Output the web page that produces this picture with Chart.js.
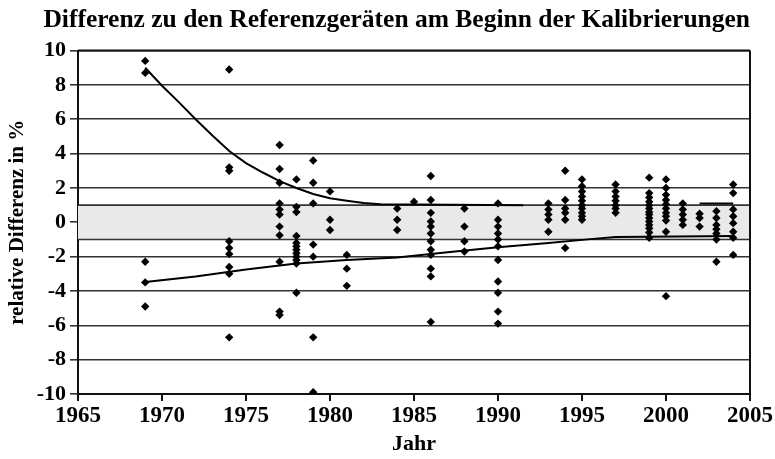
<!DOCTYPE html>
<html>
<head>
<meta charset="utf-8">
<script src="https://cdn.jsdelivr.net/npm/chart.js@4.4.1/dist/chart.umd.min.js"></script>
<style>
  html, body { margin: 0; padding: 0; background: #fff; }
  #wrap { width: 775px; height: 459px; }
</style>
</head>
<body>
<div id="wrap"><canvas id="kalib"></canvas></div>
<script>
// Kalibrierjahre und gemessene Differenzen (in %) je Jahr
const years = [1969, 1974, 1977, 1978, 1979, 1980, 1981, 1984, 1985, 1986, 1988, 1990,
    1993, 1994, 1995, 1997, 1999, 2000, 2001, 2002, 2003, 2004];
const diffs = [
    [9.4, 8.7, -2.3, -3.5, -4.9],
    [8.9, 3.2, 3.0, -1.1, -1.5, -1.85, -2.6, -3.0, -6.7],
    [4.5, 3.1, 2.3, 1.1, 0.75, 0.45, -0.25, -0.75, -2.3, -5.2, -5.4],
    [2.5, 0.9, 0.6, -0.8, -1.2, -1.4, -1.6, -1.8, -2.0, -2.2, -2.4, -4.1],
    [3.6, 2.3, 1.1, -1.3, -2.0, -6.7, -9.9],
    [1.8, 0.15, -0.45],
    [-1.9, -2.7, -3.7],
    [0.8, 0.15, -0.45],
    [1.2],
    [2.7, 1.3, 0.55, 0.05, -0.25, -0.65, -1.1, -1.6, -1.9, -2.7, -3.15, -5.8],
    [0.8, -0.25, -1.1, -1.7],
    [1.1, 0.15, -0.25, -0.65, -1.0, -1.4, -2.2, -3.45, -4.1, -5.2, -5.9],
    [1.1, 0.75, 0.45, 0.15, -0.55],
    [3.0, 1.3, 0.8, 0.55, 0.15, -1.5],
    [2.5, 2.1, 1.8, 1.5, 1.25, 1.0, 0.8, 0.55, 0.35, 0.15],
    [2.2, 1.8, 1.5, 1.25, 1.0, 0.8, 0.55],
    [2.6, 1.7, 1.45, 1.2, 1.0, 0.8, 0.6, 0.45, 0.25, 0.05, -0.15, -0.35, -0.6, -0.9],
    [2.5, 2.0, 1.6, 1.3, 1.05, 0.8, 0.55, 0.35, 0.1, -0.55, -4.3],
    [1.1, 0.75, 0.45, 0.15, -0.15],
    [0.5, 0.25, -0.25],
    [0.65, 0.25, -0.15, -0.4, -0.65, -1.0, -2.3],
    [2.2, 1.7, 0.75, 0.35, -0.05, -0.55, -0.9, -1.9]
];

// Ausgleichskurven (oben: abklingend, unten: ansteigend)
const upperFitX = [1969, 1970, 1971, 1972, 1973, 1974, 1975, 1976, 1977, 1978, 1979, 1980, 1981, 1982, 1983, 1991.5];
const upperFitY = [9.0, 7.95, 7.0, 6.0, 5.05, 4.15, 3.45, 2.9, 2.4, 2.0, 1.65, 1.4, 1.25, 1.12, 1.05, 1.0];
const upperTailX = [2002, 2004];
const upperTailY = [1.1, 1.1];
const lowerFitX = [1969, 1972, 1975, 1978, 1981, 1984, 1987, 1990, 1993, 1995.5, 1997, 2004];
const lowerFitY = [-3.48, -3.15, -2.75, -2.4, -2.2, -2.05, -1.75, -1.45, -1.2, -0.98, -0.85, -0.8];

const yTicks = [-10, -8, -6, -4, -2, 0, 2, 4, 6, 8, 10];
const xTicks = [1965, 1970, 1975, 1980, 1985, 1990, 1995, 2000, 2005];
const band = [-1, 1];

const serif = "'Liberation Serif', 'Times New Roman', serif";

const points = [];
years.forEach((yr, i) => diffs[i].forEach(v => points.push({ x: yr, y: v })));
const toXY = (xs, ys) => xs.map((x, i) => ({ x: x, y: ys[i] }));

// grauer Toleranzbereich +-1 % und Rahmen
const bandPlugin = {
    id: 'band',
    beforeDatasetsDraw(chart) {
        const { ctx, chartArea: a, scales: { y } } = chart;
        const top = y.getPixelForValue(band[1]);
        const bot = y.getPixelForValue(band[0]);
        ctx.save();
        ctx.fillStyle = '#e9e9e9';
        ctx.fillRect(a.left, top, a.right - a.left, bot - top);
        ctx.strokeStyle = '#333';
        ctx.lineWidth = 1.6;
        ctx.beginPath();
        ctx.moveTo(a.left, top); ctx.lineTo(a.right, top);
        ctx.moveTo(a.left, bot); ctx.lineTo(a.right, bot);
        ctx.stroke();
        ctx.strokeStyle = '#111';
        ctx.lineWidth = 2;
        ctx.beginPath();
        ctx.moveTo(a.right, a.top); ctx.lineTo(a.right, a.bottom);
        ctx.moveTo(a.left, a.top); ctx.lineTo(a.right, a.top);
        ctx.stroke();
        ctx.restore();
    }
};

const fitStyle = {
    showLine: true,
    borderColor: '#000',
    borderWidth: 2,
    pointRadius: 0,
    fill: false,
    tension: 0
};

new Chart(document.getElementById('kalib'), {
    type: 'scatter',
    data: {
        datasets: [
            Object.assign({ label: 'oben', data: toXY(upperFitX, upperFitY) }, fitStyle),
            Object.assign({ label: 'oben2', data: toXY(upperTailX, upperTailY) }, fitStyle),
            Object.assign({ label: 'unten', data: toXY(lowerFitX, lowerFitY) }, fitStyle),
            {
                label: 'Differenz',
                data: points,
                pointStyle: 'rectRot',
                pointRadius: 4.2,
                backgroundColor: '#000',
                borderColor: '#000',
                borderWidth: 0
            }
        ]
    },
    options: {
        responsive: true,
        maintainAspectRatio: false,
        animation: false,
        layout: { padding: { left: 0, right: 25, top: 0, bottom: 0 } },
        plugins: {
            legend: { display: false },
            tooltip: { enabled: false },
            title: {
                display: true,
                text: 'Differenz zu den Referenzgeräten am Beginn der Kalibrierungen',
                color: '#000',
                align: 'end',
                font: { family: serif, size: 25.5, weight: 'bold' },
                padding: { top: 5, bottom: 15 }
            }
        },
        scales: {
            x: {
                type: 'linear',
                min: 1965,
                max: 2005,
                afterBuildTicks: s => { s.ticks = xTicks.map(v => ({ value: v })); },
                afterFit: s => { s.height = 65; },
                ticks: {
                    color: '#000',
                    font: { family: serif, size: 23, weight: 'bold' },
                    padding: 1,
                    maxRotation: 0,
                    callback: v => String(v)
                },
                grid: { drawOnChartArea: false, tickLength: 7, color: '#111', lineWidth: 2 },
                border: { color: '#111', width: 2 },
                title: {
                    display: true,
                    text: 'Jahr',
                    color: '#000',
                    font: { family: serif, size: 22, weight: 'bold' },
                    padding: { top: 0, bottom: 1 }
                }
            },
            y: {
                min: -10,
                max: 10,
                afterBuildTicks: s => { s.ticks = yTicks.map(v => ({ value: v })); },
                afterFit: s => { s.width = 78; },
                ticks: {
                    color: '#000',
                    font: { family: serif, size: 22, weight: 'bold' },
                    padding: 4
                },
                grid: { color: '#333', lineWidth: 1.6, tickLength: 8 },
                border: { color: '#111', width: 2 },
                title: {
                    display: true,
                    text: 'relative Differenz in %',
                    color: '#000',
                    font: { family: serif, size: 21, weight: 'bold' },
                    padding: { top: 5, bottom: 0 }
                }
            }
        }
    },
    plugins: [bandPlugin]
});
</script>
</body>
</html>
